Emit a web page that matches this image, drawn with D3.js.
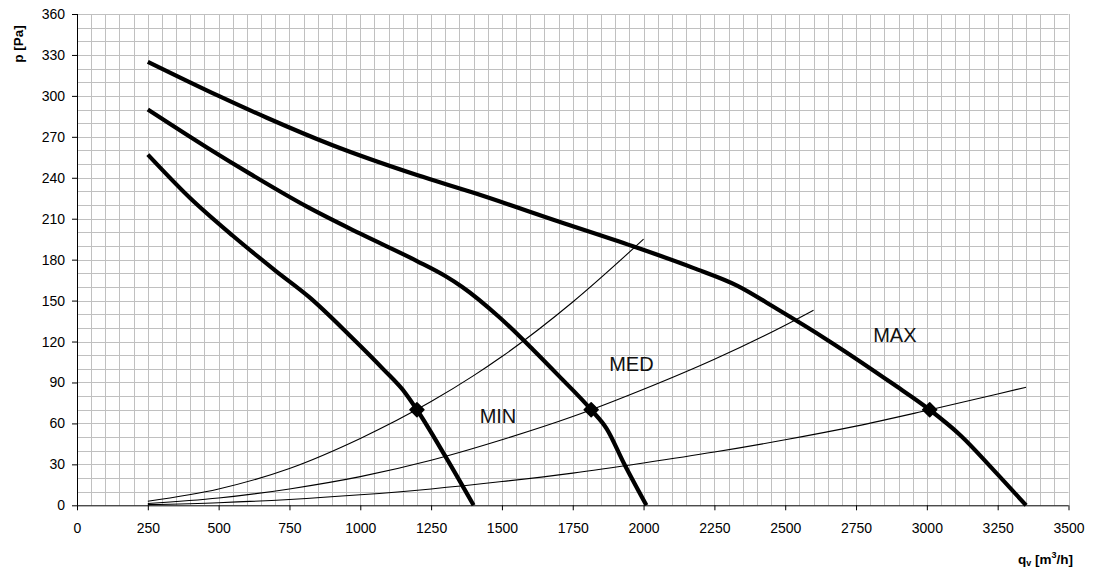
<!DOCTYPE html>
<html>
<head>
<meta charset="utf-8">
<script src="https://cdn.jsdelivr.net/npm/d3@7"></script>
<style>
  html, body { margin: 0; padding: 0; background: #fff; }
  svg { display: block; font-family: "Liberation Sans", Arial, sans-serif; }
</style>
</head>
<body>
<svg id="chart" width="1094" height="577"></svg>
<script>
// ---- Data ----
const xTicks = [0, 250, 500, 750, 1000, 1250, 1500, 1750, 2000, 2250, 2500, 2750, 3000, 3250, 3500];
const yTicks = [0, 30, 60, 90, 120, 150, 180, 210, 240, 270, 300, 330, 360];

// Fan curves (q [m3/h], p [Pa])
const maxQ = [250, 500, 670, 900, 1200, 1400, 1700, 1960, 2175, 2330, 2470, 2650, 2880, 3010, 3120, 3235, 3350];
const maxP = [325, 300, 284, 264, 242, 229, 208, 190, 174, 161, 144, 121, 89, 70, 51, 26, 0];

const medQ = [250, 460, 610, 810, 1000, 1200, 1300, 1360, 1490, 1610, 1700, 1815, 1870, 1930, 2010];
const medP = [290, 262, 243, 219, 199, 179, 168, 160, 138, 114, 95, 70, 56, 31, 0];

const minQ = [250, 400, 550, 700, 820, 960, 1080, 1160, 1200, 1300, 1400];
const minP = [257, 225, 197.5, 172, 152.5, 125, 100, 82, 70, 36, 0];

// System curves
const sys1Q = [250, 500, 750, 1000, 1250, 1400, 1500, 1750, 2000];
const sys1P = [3, 12, 27, 49, 76, 95, 109, 149, 195];

const sys2Q = [250, 500, 750, 1000, 1250, 1500, 1750, 2000, 2250, 2500, 2600];
const sys2P = [1.3, 5.3, 12, 21, 33, 48, 65, 85, 107, 132, 143];

const sys3Q = [250, 500, 750, 1000, 1250, 1500, 1750, 2000, 2250, 2500, 2750, 3000, 3250, 3350];
const sys3P = [0.5, 1.9, 4.3, 7.7, 12, 17.4, 23.6, 31, 39, 48, 58, 69.5, 81.5, 86.5];

// Duty points
const dutyQ = [1200, 1815, 3010];
const dutyP = [70, 70, 70];

// Curve labels
const labelText = ["MIN", "MED", "MAX"];
const labelQ = [1486, 1957, 2887];
const labelP = [60, 98.5, 119.5];

// ---- Layout ----
const svg = d3.select("#chart");
const m = { left: 77, top: 14, right: 1094 - 1068.5, bottom: 577 - 505.3 };
const W = 1094 - m.left - m.right;
const H = 577 - m.top - m.bottom;
const g = svg.append("g").attr("transform", `translate(${m.left},${m.top})`);

const x = d3.scaleLinear().domain([0, 3500]).range([0, W]);
const y = d3.scaleLinear().domain([0, 360]).range([H, 0]);

// Grid
const gridX = d3.range(50, 3501, 50);
const gridY = d3.range(10, 361, 10);
g.append("g").selectAll("line").data(gridX).join("line")
  .attr("x1", d => Math.round(x(d)) + 0.5).attr("x2", d => Math.round(x(d)) + 0.5)
  .attr("y1", 0).attr("y2", H)
  .attr("stroke", "#c0c0c0").attr("stroke-width", 1);
g.append("g").selectAll("line").data(gridY).join("line")
  .attr("y1", d => Math.round(y(d)) + 0.5).attr("y2", d => Math.round(y(d)) + 0.5)
  .attr("x1", 0).attr("x2", W)
  .attr("stroke", "#c0c0c0").attr("stroke-width", 1);

// Axes
const xAxis = d3.axisBottom(x).tickValues(xTicks).tickSize(5).tickPadding(13).tickFormat(d3.format("d"));
const yAxis = d3.axisLeft(y).tickValues(yTicks).tickSize(5).tickPadding(7).tickFormat(d3.format("d"));

const gx = g.append("g").attr("transform", `translate(0,${H})`).call(xAxis);
const gy = g.append("g").call(yAxis);
[gx, gy].forEach(a => {
  a.select(".domain").attr("stroke", "#000").attr("stroke-width", 1);
  a.selectAll(".tick line").attr("stroke", "#000");
  a.selectAll(".tick text").attr("fill", "#000").style("font-size", "14px")
    .style("font-family", '"Liberation Sans", Arial, sans-serif');
});
gx.select(".domain").attr("d", `M0,0.5H${W}`);
gy.select(".domain").attr("d", `M0.5,${H}V0`);

// Lines
const zip = (a, b) => a.map((v, i) => [v, b[i]]);
const smooth = d3.line().x(d => x(d[0])).y(d => y(d[1])).curve(d3.curveMonotoneX);

[[sys1Q, sys1P], [sys2Q, sys2P], [sys3Q, sys3P]].forEach(([q, p]) => {
  g.append("path").datum(zip(q, p)).attr("d", smooth)
    .attr("fill", "none").attr("stroke", "#000").attr("stroke-width", 1.1);
});

[[maxQ, maxP], [medQ, medP], [minQ, minP]].forEach(([q, p]) => {
  g.append("path").datum(zip(q, p)).attr("d", smooth)
    .attr("fill", "none").attr("stroke", "#000").attr("stroke-width", 4.2)
    .attr("stroke-linejoin", "round").attr("stroke-linecap", "butt");
});

// Duty point markers (diamonds)
const r = 7;
g.append("g").selectAll("path").data(zip(dutyQ, dutyP)).join("path")
  .attr("transform", d => `translate(${x(d[0])},${y(d[1])})`)
  .attr("d", `M0,${-r}L${r},0L0,${r}L${-r},0Z`)
  .attr("fill", "#000").attr("stroke", "#000").attr("stroke-width", 1.5)
  .attr("stroke-linejoin", "round");

// Curve labels
g.append("g").selectAll("text").data(labelText).join("text")
  .attr("x", (d, i) => x(labelQ[i])).attr("y", (d, i) => y(labelP[i]))
  .attr("text-anchor", "middle")
  .style("font-size", "20px").attr("fill", "#111")
  .text(d => d);

// Axis titles
svg.append("text")
  .attr("transform", "translate(23,44) rotate(-90)")
  .attr("text-anchor", "middle")
  .style("font-size", "13.5px").style("font-weight", "bold")
  .text("p [Pa]");

const qt = svg.append("text")
  .attr("x", 1073).attr("y", 564)
  .attr("text-anchor", "end")
  .style("font-size", "13.5px").style("font-weight", "bold");
qt.append("tspan").text("q");
qt.append("tspan").text("v").style("font-size", "9px").attr("dy", 2);
qt.append("tspan").text(" [m").attr("dy", -2);
qt.append("tspan").text("3").style("font-size", "9px").attr("dy", -6);
qt.append("tspan").text("/h]").attr("dy", 6);
</script>
</body>
</html>
